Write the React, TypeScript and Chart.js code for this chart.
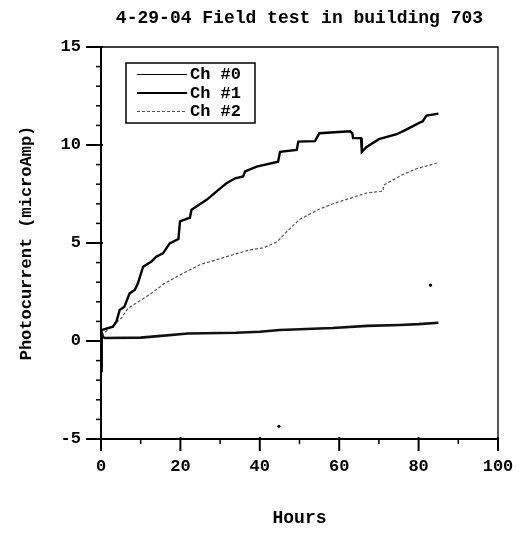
import React, { useEffect, useRef } from "react";
import { Chart, registerables } from "chart.js";

Chart.register(...registerables);

const titleText = "4-29-04 Field test in building 703";
const xTitle = "Hours";
const yTitle = "Photocurrent (microAmp)";
const seriesLabels = ["Ch #0", "Ch #1", "Ch #2"];

const ch0Hours = [0, 0.1, 0.25, 0.5, 1, 10, 14.4, 21.9, 34, 40, 45, 50, 58.4, 67, 75.3, 80, 85];
const ch0Values = [0, -1.6, 0.4, 0.2, 0.15, 0.17, 0.25, 0.38, 0.42, 0.47, 0.56, 0.6, 0.66, 0.77, 0.82, 0.86, 0.93];

const ch1Hours = [0, 0.1, 3, 3.9, 4.7, 5.9, 7.2, 8.5, 9.3, 10.6, 12.7, 13.9, 15.6, 17.3, 19.5, 19.9, 22.4, 22.8, 26.6, 27.5, 29.5, 31.6, 33.8, 35.8, 36.3, 39.2, 44.6, 45.1, 49.3, 49.7, 53.9, 55, 62.7, 63.3, 63.5, 65.5, 65.7, 66.9, 70, 74.5, 77, 80.4, 81, 82, 83.5, 85];
const ch1Values = [0, 0.55, 0.73, 1.0, 1.58, 1.75, 2.43, 2.6, 2.94, 3.79, 4.05, 4.3, 4.47, 4.98, 5.2, 6.1, 6.3, 6.7, 7.2, 7.35, 7.7, 8.05, 8.3, 8.4, 8.65, 8.9, 9.15, 9.65, 9.75, 10.17, 10.2, 10.6, 10.7, 10.6, 10.35, 10.35, 9.65, 9.9, 10.3, 10.55, 10.8, 11.15, 11.2, 11.5, 11.55, 11.6];

const ch2Hours = [0, 0.5, 2.6, 5.1, 6.8, 10.1, 12.7, 16, 21.5, 25, 29.2, 33.2, 37.5, 40.8, 44.3, 46.9, 50, 54.7, 58.4, 66.9, 71, 71.2, 75.6, 79.6, 85];
const ch2Values = [0, 0.35, 0.73, 1.16, 1.67, 2.09, 2.43, 2.94, 3.54, 3.9, 4.15, 4.4, 4.65, 4.75, 5.05, 5.6, 6.2, 6.7, 7.0, 7.55, 7.65, 7.95, 8.45, 8.8, 9.1];

const strayHours = [44.8, 83];
const strayValues = [-4.35, 2.85];

const xMin = 0, xMax = 100, xMajorStep = 20, xMinorStep = 10;
const yMin = -5, yMax = 15, yMajorStep = 5, yMinorStep = 1;

const FONT = '"Liberation Mono", "Courier New", monospace';

const toPoints = (xs: number[], ys: number[]) => xs.map((x, i) => ({ x, y: ys[i] }));

const decorPlugin = {
  id: "decor",
  afterDraw(chart: any) {
    const ctx = chart.ctx as CanvasRenderingContext2D;
    const { left, right, top, bottom } = chart.chartArea;
    const xs = chart.scales.x;
    const ys = chart.scales.y;
    ctx.save();
    ctx.strokeStyle = "#000";
    ctx.lineCap = "butt";
    // frame
    ctx.lineWidth = 1.3;
    ctx.beginPath();
    ctx.moveTo(left, top);
    ctx.lineTo(right, top);
    ctx.lineTo(right, bottom);
    ctx.stroke();
    ctx.lineWidth = 2;
    ctx.beginPath();
    ctx.moveTo(left, top);
    ctx.lineTo(left, bottom);
    ctx.lineTo(right, bottom);
    ctx.stroke();
    // x ticks
    for (let v = xMin; v <= xMax + 1e-9; v += xMinorStep) {
      const px = xs.getPixelForValue(v);
      const major = Math.abs(v / xMajorStep - Math.round(v / xMajorStep)) < 1e-6;
      ctx.lineWidth = major ? 2 : 1.5;
      ctx.beginPath();
      ctx.moveTo(px, bottom - (major ? 2 : 0));
      ctx.lineTo(px, bottom + (major ? 12 : 5));
      ctx.stroke();
    }
    // y ticks
    for (let v = yMin; v <= yMax + 1e-9; v += yMinorStep) {
      const py = ys.getPixelForValue(v);
      const major = Math.abs(v / yMajorStep - Math.round(v / yMajorStep)) < 1e-6;
      ctx.lineWidth = major ? 2 : 1.5;
      ctx.beginPath();
      ctx.moveTo(left + (major ? 2 : 0), py);
      ctx.lineTo(left - (major ? 15 : 5), py);
      ctx.stroke();
    }
    // titles
    ctx.fillStyle = "#000";
    ctx.textAlign = "center";
    ctx.textBaseline = "middle";
    ctx.font = `bold 18px ${FONT}`;
    const cx = (left + right) / 2;
    ctx.fillText(titleText, cx, 18);
    ctx.fillText(xTitle, cx, 518);
    ctx.save();
    ctx.translate(27, (top + bottom) / 2);
    ctx.rotate(-Math.PI / 2);
    ctx.font = `bold 17px ${FONT}`;
    ctx.fillText(yTitle, 0, 0);
    ctx.restore();
    // legend
    const bx = 126, by = 63, bw = 129, bh = 60;
    ctx.fillStyle = "#fff";
    ctx.fillRect(bx, by, bw, bh);
    ctx.lineWidth = 1.5;
    ctx.strokeStyle = "#000";
    ctx.strokeRect(bx, by, bw, bh);
    const legendWidths = [1, 2, 1];
    const legendColors = ["#000", "#000", "#555"];
    ctx.font = `bold 17px ${FONT}`;
    ctx.textAlign = "left";
    chart.data.datasets.slice(0, 3).forEach((ds: any, i: number) => {
      const ry = Math.round(by + 11 + i * 18.5);
      ctx.strokeStyle = legendColors[i];
      ctx.lineWidth = legendWidths[i];
      ctx.setLineDash(ds.borderDash || []);
      ctx.beginPath();
      const ly = legendWidths[i] % 2 === 1 ? ry + 0.5 : ry;
      ctx.moveTo(137, ly);
      ctx.lineTo(187, ly);
      ctx.stroke();
      ctx.setLineDash([]);
      ctx.fillStyle = "#000";
      ctx.fillText(ds.label, 190, ry + 1);
    });
    ctx.restore();
  },
};

export default function App() {
  const ref = useRef<HTMLCanvasElement | null>(null);
  useEffect(() => {
    if (!ref.current) return;
    const chart = new Chart(ref.current, {
      type: "line",
      data: {
        datasets: [
          {
            label: seriesLabels[0],
            data: toPoints(ch0Hours, ch0Values),
            borderColor: "#111",
            borderWidth: 2.6,
            pointRadius: 0,
            tension: 0,
          },
          {
            label: seriesLabels[1],
            data: toPoints(ch1Hours, ch1Values),
            borderColor: "#000",
            borderWidth: 2.4,
            pointRadius: 0,
            tension: 0,
          },
          {
            label: seriesLabels[2],
            data: toPoints(ch2Hours, ch2Values),
            borderColor: "#555",
            borderWidth: 1.2,
            borderDash: [3, 2],
            pointRadius: 0,
            tension: 0,
          },
          {
            label: "stray",
            data: toPoints(strayHours, strayValues),
            showLine: false,
            pointRadius: 1.6,
            pointBackgroundColor: "#000",
            pointBorderWidth: 0,
            borderColor: "#000",
          },
        ],
      },
      options: {
        responsive: false,
        animation: false,
        events: [],
        layout: { padding: { top: 47, right: 24, bottom: 0, left: 0 } },
        plugins: { legend: { display: false }, tooltip: { enabled: false }, title: { display: false } },
        scales: {
          x: {
            type: "linear",
            min: xMin,
            max: xMax,
            ticks: { stepSize: xMajorStep, color: "#000", font: { family: FONT, size: 17, weight: "bold" }, padding: 6, maxRotation: 0 },
            grid: { display: true, drawOnChartArea: false, drawTicks: true, tickLength: 12, color: "rgba(0,0,0,0)" },
            border: { display: false },
            afterFit: (s: any) => { s.height = 99; },
          },
          y: {
            type: "linear",
            min: yMin,
            max: yMax,
            ticks: { stepSize: yMajorStep, color: "#000", font: { family: FONT, size: 17, weight: "bold" }, padding: 5 },
            grid: { display: true, drawOnChartArea: false, drawTicks: true, tickLength: 15, color: "rgba(0,0,0,0)" },
            border: { display: false },
            afterFit: (s: any) => { s.width = 101; },
          },
        },
      },
      plugins: [decorPlugin],
    } as any);
    return () => chart.destroy();
  }, []);
  return (
    <div style={{ position: "absolute", left: 0, top: 0, width: 522, height: 538, background: "#fff" }}>
      <canvas ref={ref} width={522} height={538} />
    </div>
  );
}
